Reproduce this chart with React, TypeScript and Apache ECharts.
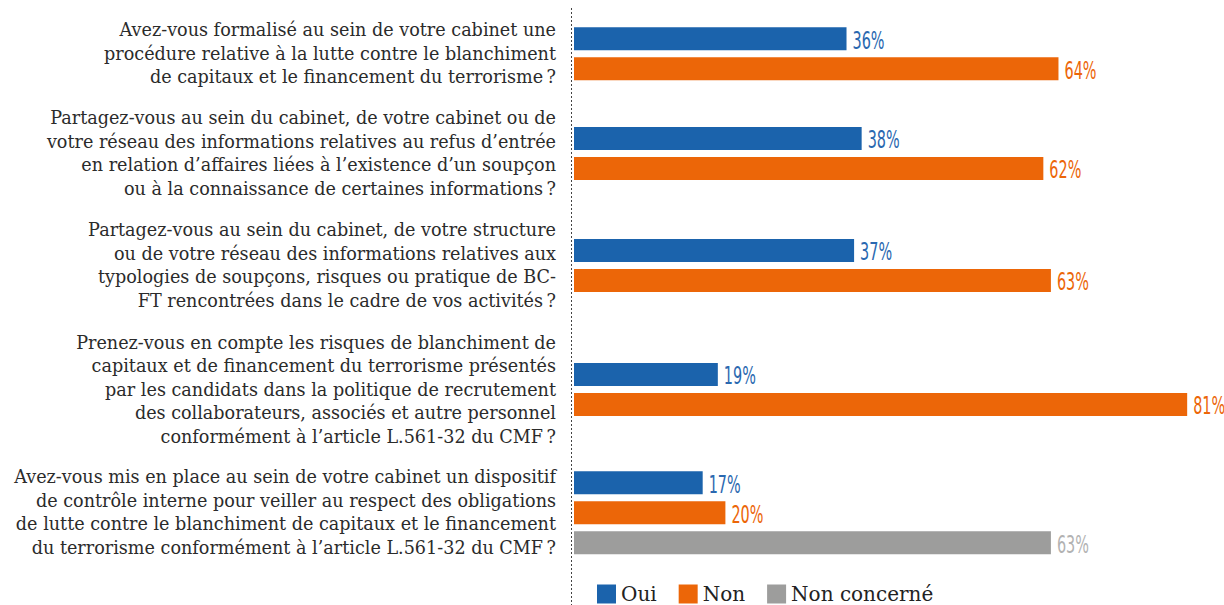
import React, { useEffect, useRef } from "react";
import * as echarts from "echarts";

const categories: string[] = [
  "Avez-vous formalisé au sein de votre cabinet une\nprocédure relative à la lutte contre le blanchiment\nde capitaux et le financement du terrorisme\u202f?",
  "Partagez-vous au sein du cabinet, de votre cabinet ou de\nvotre réseau des informations relatives au refus d’entrée\nen relation d’affaires liées à l’existence d’un soupçon\nou à la connaissance de certaines informations\u202f?",
  "Partagez-vous au sein du cabinet, de votre structure\nou de votre réseau des informations relatives aux\ntypologies de soupçons, risques ou pratique de BC-\nFT rencontrées dans le cadre de vos activités\u202f?",
  "Prenez-vous en compte les risques de blanchiment de\ncapitaux et de financement du terrorisme présentés\npar les candidats dans la politique de recrutement\ndes collaborateurs, associés et autre personnel\nconformément à l’article L.561-32 du CMF\u202f?",
  "Avez-vous mis en place au sein de votre cabinet un dispositif\nde contrôle interne pour veiller au respect des obligations\nde lutte contre le blanchiment de capitaux et le financement\ndu terrorisme conformément à l’article L.561-32 du CMF\u202f?",
];
const seriesNames: string[] = ["Oui", "Non", "Non concerné"];
const oui: number[] = [36, 38, 37, 19, 17];
const non: number[] = [64, 62, 63, 81, 20];
const nonConcerne: (number | null)[] = [null, null, null, null, 63];

// layout (pixels)
const groupCenters = [53.7, 153.5, 265.5, 389.5, 512.7];
const colors = ["#1b63ac", "#ec6608", "#9d9d9c"];
const labelColors = ["#2a68b0", "#ec6608", "#b2b2b2"];
const BAR_W = 23;
const GAP = 7;
const GRID_LEFT = 574;
const PX_PER_PCT = 7.57;
const AXIS_MAX = 85;

export default function App() {
  const ref = useRef<HTMLDivElement>(null);
  useEffect(() => {
    if (!ref.current) return;
    const chart = echarts.init(ref.current, null, { renderer: "svg" });
    const grids: any[] = [];
    const xAxes: any[] = [];
    const yAxes: any[] = [];
    const series: any[] = [];
    categories.forEach((cat, i) => {
      const vals = [oui[i], non[i], nonConcerne[i]];
      const present = vals
        .map((v, s) => ({ v, s }))
        .filter((d) => d.v != null) as { v: number; s: number }[];
      const n = present.length;
      const h = n * BAR_W + (n - 1) * GAP + 10;
      grids.push({
        left: GRID_LEFT,
        top: groupCenters[i] - h / 2,
        height: h,
        width: AXIS_MAX * PX_PER_PCT,
        containLabel: false,
      });
      xAxes.push({
        type: "value",
        gridIndex: i,
        min: 0,
        max: AXIS_MAX,
        show: false,
      });
      yAxes.push({
        type: "category",
        gridIndex: i,
        inverse: true,
        data: [cat],
        axisLine: { show: false },
        axisTick: { show: false },
        axisLabel: {
          margin: 18,
          align: "right",
          fontFamily: "DejaVu Serif",
          fontSize: 17.6,
          lineHeight: 23.5,
          color: "#2b2b2b",
        },
      });
      present.forEach(({ v, s }, k) => {
        series.push({
          type: "bar",
          name: seriesNames[s],
          xAxisIndex: i,
          yAxisIndex: i,
          data: [v],
          barWidth: BAR_W,
          barGap: (GAP / BAR_W) * 100 + "%",
          itemStyle: { color: colors[s] },
        });
        const offset = (k - (n - 1) / 2) * (BAR_W + GAP);
        series.push({
          type: "custom",
          name: "label-" + i + "-" + s,
          xAxisIndex: i,
          yAxisIndex: i,
          data: [[v, 0]],
          clip: false,
          silent: true,
          z: 5,
          renderItem: (params: any, api: any) => {
            const p = api.coord([api.value(0), api.value(1)]);
            return {
              type: "text",
              x: p[0] + 6,
              y: p[1] + offset + 2,
              scaleX: 0.6,
              style: {
                text: api.value(0) + "%",
                fill: labelColors[s],
                fontFamily: "DejaVu Sans",
                fontSize: 24,
                align: "left",
                verticalAlign: "middle",
              },
            };
          },
        });
      });
    });
    chart.setOption({
      animation: false,
      backgroundColor: "#ffffff",
      grid: grids,
      xAxis: xAxes,
      yAxis: yAxes,
      series,
      legend: {
        data: seriesNames,
        left: 592,
        top: 579,
        itemWidth: 19,
        itemHeight: 19,
        itemGap: 22,
        icon: "rect",
        textStyle: {
          fontFamily: "DejaVu Serif",
          fontSize: 20,
          color: "#222",
        },
      },
      graphic: [
        {
          type: "line",
          shape: { x1: 571.5, y1: 8, x2: 571.5, y2: 605 },
          style: { stroke: "#444", lineWidth: 1, lineDash: [2, 2] },
          silent: true,
        },
      ],
    });
    return () => chart.dispose();
  }, []);
  return (
    <div
      ref={ref}
      style={{ position: "fixed", left: 0, top: 0, width: 1224, height: 605 }}
    />
  );
}
